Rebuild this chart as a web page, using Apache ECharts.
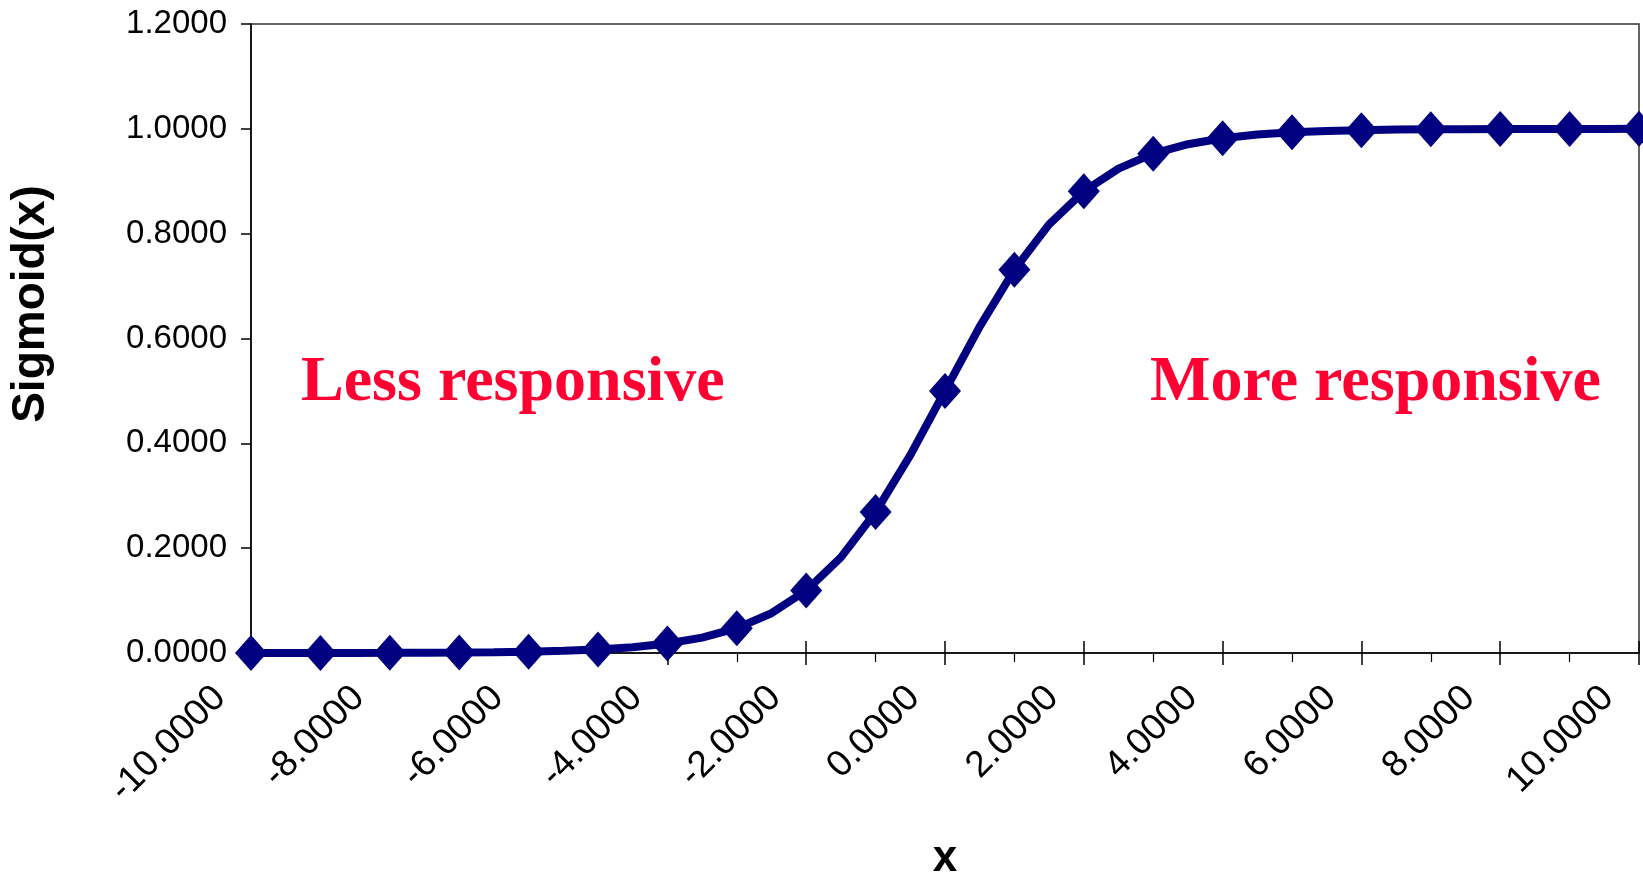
<!DOCTYPE html>
<html>
<head>
<meta charset="utf-8">
<script src="https://cdn.jsdelivr.net/npm/echarts@6/dist/echarts.min.js"></script>
<style>
html,body{margin:0;padding:0;background:#fff;}
#chart{width:1643px;height:875px;}
</style>
</head>
<body>
<div id="chart"></div>
<script>
// x values (step 0.5) and Sigmoid(x) values
const xValues = [-10,-9.5,-9,-8.5,-8,-7.5,-7,-6.5,-6,-5.5,-5,-4.5,-4,-3.5,-3,-2.5,-2,-1.5,-1,-0.5,0,0.5,1,1.5,2,2.5,3,3.5,4,4.5,5,5.5,6,6.5,7,7.5,8,8.5,9,9.5,10];
const yValues = [0.0000,0.0001,0.0001,0.0002,0.0003,0.0006,0.0009,0.0015,0.0025,0.0041,0.0067,0.0110,0.0180,0.0293,0.0474,0.0759,0.1192,0.1824,0.2689,0.3775,0.5000,0.6225,0.7311,0.8176,0.8808,0.9241,0.9526,0.9707,0.9820,0.9890,0.9933,0.9959,0.9975,0.9985,0.9991,0.9994,0.9997,0.9998,0.9999,0.9999,1.0000];
const xAxisTitle = 'x';
const yAxisTitle = 'Sigmoid(x)';
const leftNote = 'Less responsive';
const rightNote = 'More responsive';

const lineColor = '#000080';
const noteColor = '#ff0033';

const seriesData = xValues.map((x, i) => ({
  value: [x, yValues[i]],
  symbol: Number.isInteger(x) ? 'diamond' : 'none'
}));

const chart = echarts.init(document.getElementById('chart'));
const labelFont = 'Liberation Sans, Arial, sans-serif';
chart.setOption({
  animation: false,
  backgroundColor: '#ffffff',
  grid: {left: 251, right: 4, top: 24, bottom: 222, containLabel: false, outerBoundsMode: 'none',
         show: true, borderColor: '#333', borderWidth: 1.5, backgroundColor: 'transparent'},
  xAxis: [{
    type: 'value', min: -10, max: 10, interval: 2,
    axisLine: {show: true, onZero: false, lineStyle: {color: '#000', width: 1.5}},
    axisTick: {show: true, length: 12, lineStyle: {color: '#000', width: 1.5}},
    minorTick: {show: true, splitNumber: 2, length: 9, lineStyle: {color: '#000', width: 1.2}},
    splitLine: {show: false},
    axisLabel: {
      rotate: 45, margin: 8, color: '#000', fontSize: 37, fontFamily: labelFont,
      padding: [0, 44, 0, 0],
      formatter: v => v.toFixed(4)
    },
    name: xAxisTitle, nameLocation: 'middle', nameGap: 184,
    nameTextStyle: {fontSize: 44, fontWeight: 'bold', color: '#000', fontFamily: labelFont}
  }, {
    type: 'value', min: -10, max: 10, interval: 2, position: 'bottom', offset: 0,
    axisLine: {show: false, onZero: false},
    axisTick: {show: true, inside: true, length: 12, lineStyle: {color: '#000', width: 1.5}},
    axisLabel: {show: false},
    splitLine: {show: false}
  }],
  yAxis: {
    type: 'value', min: 0, max: 1.2, interval: 0.2,
    axisLine: {show: true, onZero: false, lineStyle: {color: '#000', width: 1.5}},
    axisTick: {show: true, length: 10, lineStyle: {color: '#000', width: 1.5}},
    splitLine: {show: false},
    axisLabel: {margin: 24, color: '#000', fontSize: 33, fontFamily: labelFont, formatter: v => v.toFixed(4)}
  },
  graphic: [
    {type: 'text', x: 31, y: 304, rotation: Math.PI / 2,
     style: {text: yAxisTitle, fill: '#000', font: 'bold 46px ' + labelFont, textAlign: 'center', textVerticalAlign: 'middle'}},
    {type: 'text', x: 301, y: 415,
     style: {text: leftNote, fill: noteColor, font: 'bold 64px "Liberation Serif", "Times New Roman", serif', textAlign: 'left', textVerticalAlign: 'bottom'}},
    {type: 'text', x: 1150, y: 415,
     style: {text: rightNote, fill: noteColor, font: 'bold 64px "Liberation Serif", "Times New Roman", serif', textAlign: 'left', textVerticalAlign: 'bottom'}}
  ],
  series: [{
    type: 'line', xAxisIndex: 0, yAxisIndex: 0,
    data: seriesData, showAllSymbol: true,
    symbolSize: [32, 36],
    lineStyle: {color: lineColor, width: 8},
    itemStyle: {color: lineColor, borderWidth: 0},
    z: 3
  }]
});
</script>
</body>
</html>
